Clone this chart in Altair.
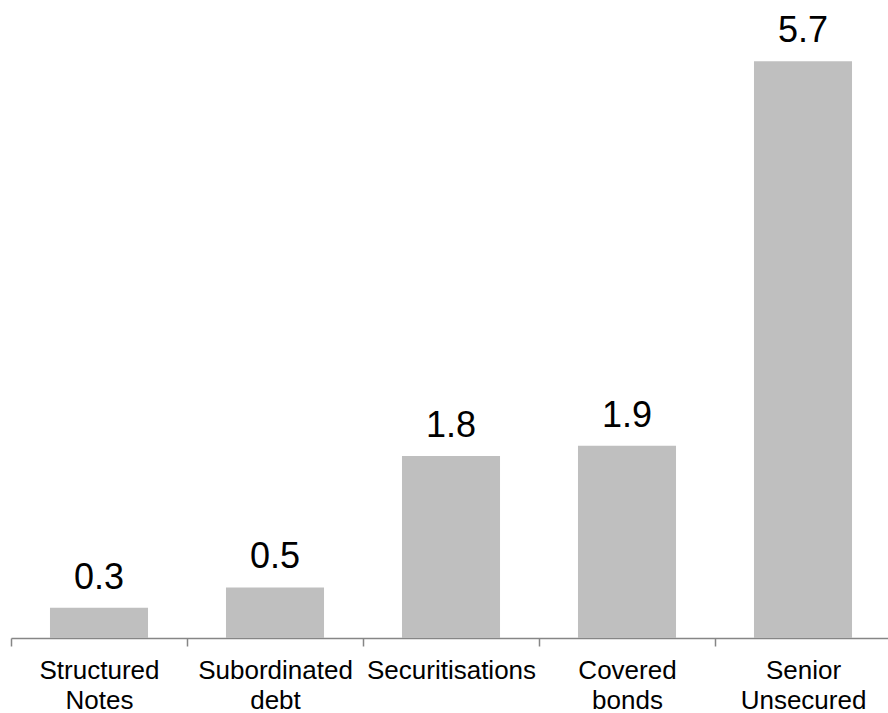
import altair as alt
import pandas as pd

# Issuance by instrument type
categories = ["Structured Notes", "Subordinated debt", "Securitisations",
              "Covered bonds", "Senior Unsecured"]
values = [0.3, 0.5, 1.8, 1.9, 5.7]

df = pd.DataFrame({"category": categories, "value": values})

FONT = "Liberation Sans"
STEP = 176  # band step in pixels (880 / 5)

x = alt.X(
    "category:N",
    sort=categories,
    title=None,
    scale=alt.Scale(range=[0, 880], paddingInner=0.443, paddingOuter=0.2215),
    axis=alt.Axis(
        labelAngle=0,
        labelExpr="split(datum.label, ' ')",
        labelFont=FONT,
        labelFontSize=26,
        labelLineHeight=30,
        labelColor="#000000",
        labelPadding=11,
        labelBaseline="top",
        domainColor="#868686",
        domainWidth=1.5,
        tickColor="#868686",
        tickWidth=1.5,
        tickSize=8,
        # ticks sit on the boundaries between categories
        tickOffset=-STEP / 2,
        labelOffset=STEP / 2,
    ),
)
y = alt.Y("value:Q", axis=None, scale=alt.Scale(domain=[0, 6], nice=False))

bars = alt.Chart(df).mark_bar(color="#BFBFBF").encode(x=x, y=y)
labels = alt.Chart(df).mark_text(
    font=FONT, fontSize=36, color="#000000", baseline="alphabetic", dy=-19
).encode(x=x, y=y, text=alt.Text("value:Q", format=".1f"))

chart = (
    alt.layer(bars, labels)
    .properties(
        width=877,
        height=607,
        padding={"left": 11, "top": 31, "right": 0, "bottom": 75},
        autosize=alt.AutoSizeParams(type="none"),
        background="white",
    )
    .configure_view(stroke=None)
)

chart.save("out.html", embed_options={"renderer": "svg", "actions": False})
